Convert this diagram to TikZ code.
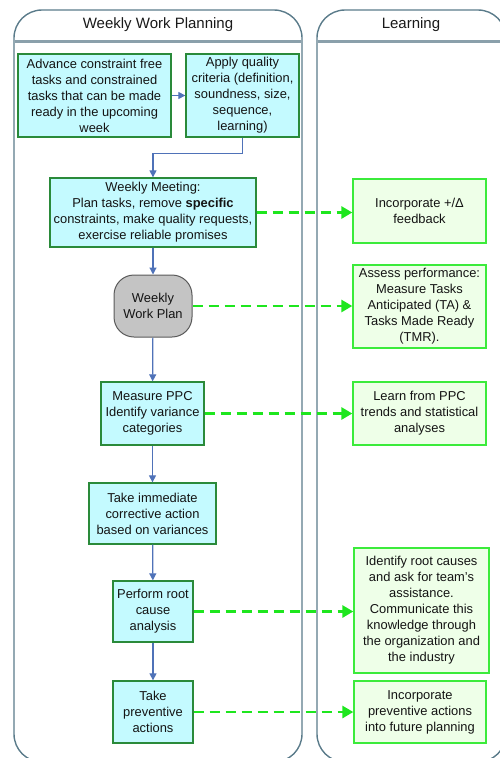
\documentclass[tikz,border=0pt]{standalone}
\usepackage{fontspec}
\setmainfont{Liberation Sans}
\usetikzlibrary{arrows.meta}
\definecolor{laneline}{HTML}{5A7B8A}
\definecolor{headline}{HTML}{8AA0AB}
\definecolor{taskfill}{HTML}{C4FAFF}
\definecolor{taskline}{HTML}{2A8A3A}
\definecolor{learnfill}{HTML}{EEFFE8}
\definecolor{learnline}{HTML}{3BEB3B}
\definecolor{flowblue}{HTML}{4F72B8}
\definecolor{dashgreen}{HTML}{1EE61E}
\definecolor{planfill}{HTML}{C4C4C4}
\definecolor{planline}{HTML}{5A5A5A}
\begin{document}
\begin{tikzpicture}[x=1pt,y=-1pt,
  lane/.style={draw=laneline,line width=1.4pt,rounded corners=28pt},
  headsep/.style={draw=headline,line width=2.6pt},
  lanetitle/.style={font=\fontsize{15}{18}\selectfont,text=black!90},
  boxtext/.style={font=\fontsize{12.9}{16}\selectfont,align=center,inner sep=0pt,text=black!92},
  task/.style={boxtext,draw=taskline,fill=taskfill,line width=1.3pt},
  learnbox/.style={boxtext,draw=learnline,fill=learnfill,line width=1.3pt},
  plan/.style={boxtext,draw=planline,fill=planfill,line width=1pt,rounded corners=20pt},
  flow/.style={draw=flowblue,line width=1.2pt,-{Triangle[length=7pt,width=7pt]}},
  feed/.style={draw=dashgreen,line width=2.8pt,dash pattern=on 10pt off 6pt,
    -{Triangle[length=11pt,width=12pt]}}]
\useasboundingbox (0,0) rectangle (500,758);
\clip (0,0) rectangle (500,758);

% swim lanes
\draw[lane] (14,10) rectangle (302,762);
\draw[lane] (317,10) rectangle (506,762);
\draw[headsep] (14.7,41.5) -- (301.3,41.5);
\draw[headsep] (317.7,41.5) -- (505.3,41.5);
\node[lanetitle] (planlane) at (158,25) {Weekly Work Planning};
\node[lanetitle] (learnlane) at (411,25) {Learning};

% planning steps
\node[task,minimum width=153pt,minimum height=83pt] (adv) at (94.5,95.5)
  {Advance constraint free\\tasks and constrained\\tasks that can be made\\ready in the upcoming\\week};
\node[task,minimum width=113pt,minimum height=83pt] (apply) at (242.5,95.5)
  {Apply quality\\criteria (definition,\\soundness, size,\\sequence,\\learning)};
\node[task,minimum width=206pt,minimum height=69pt] (meet) at (153,212.5)
  {Weekly Meeting:\\Plan tasks, remove \textbf{specific}\\constraints, make quality requests,\\exercise reliable promises};
\node[plan,minimum width=78pt,minimum height=62pt] (wwp) at (153,306)
  {Weekly\\Work Plan};
\node[task,minimum width=103pt,minimum height=63pt] (ppc) at (152.5,413.5)
  {Measure PPC\\Identify variance\\categories};
\node[task,minimum width=127pt,minimum height=61pt] (act) at (152.5,513.5)
  {Take immediate\\corrective action\\based on variances};
\node[task,minimum width=80pt,minimum height=61pt] (root) at (153,611.5)
  {Perform root\\cause\\analysis};
\node[task,minimum width=80pt,minimum height=62pt] (prev) at (153,712)
  {Take\\preventive\\actions};

% learning outcomes
\node[learnbox,minimum width=133pt,minimum height=64pt] (fb) at (419.5,211)
  {Incorporate +/Δ\\feedback};
\node[learnbox,minimum width=133pt,minimum height=83pt] (assess) at (419.5,306.5)
  {Assess performance:\\Measure Tasks\\Anticipated (TA) \&\\Tasks Made Ready\\(TMR).};
\node[learnbox,minimum width=133pt,minimum height=63pt] (trend) at (419.5,413.5)
  {Learn from PPC\\trends and statistical\\analyses};
\node[learnbox,minimum width=135pt,minimum height=125pt] (cause) at (421.5,610.5)
  {Identify root causes\\and ask for team's\\assistance.\\Communicate this\\knowledge through\\the organization and\\the industry};
\node[learnbox,minimum width=132pt,minimum height=62pt] (future) at (420,712)
  {Incorporate\\preventive actions\\into future planning};

% work flow
\draw[flow] (adv) -- (apply);
\draw[flow] (apply.south) -- ++(0,16) -| (meet.north);
\draw[flow] (meet) -- (wwp);
\draw[flow] (wwp) -- (ppc);
\draw[flow] (ppc) -- (act);
\draw[flow] (act) -- (root);
\draw[flow] (root) -- (prev);

% feedback into learning
\draw[feed] (meet.east) -- (meet.east -| fb.west);
\draw[feed] (wwp.east) -- (wwp.east -| assess.west);
\draw[feed] (ppc.east) -- (ppc.east -| trend.west);
\draw[feed] (root.east) -- (root.east -| cause.west);
\draw[feed] (prev.east) -- (prev.east -| future.west);
\end{tikzpicture}
\end{document}
